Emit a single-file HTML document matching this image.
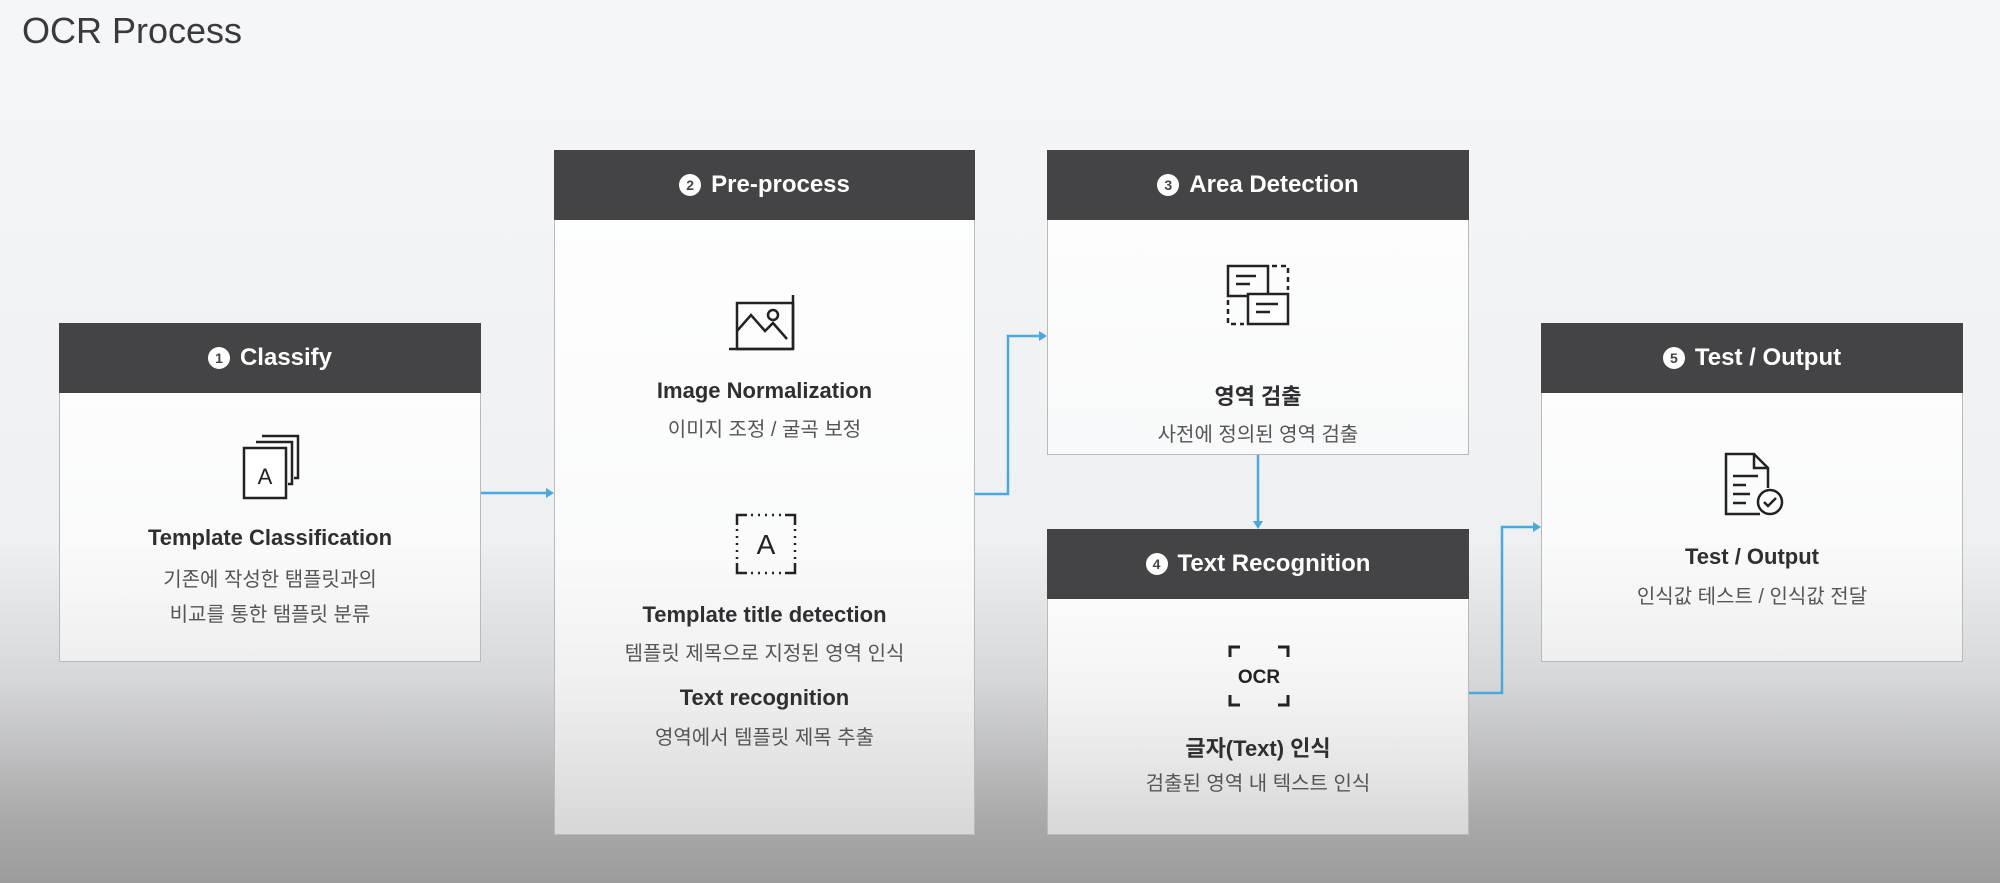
<!DOCTYPE html>
<html><head><meta charset="utf-8"><style>
*{margin:0;padding:0;box-sizing:border-box}
body{width:2000px;height:883px;overflow:hidden;position:relative;font-family:"Liberation Sans","Noto Sans CJK KR",sans-serif;
background:linear-gradient(180deg,#f5f6f8 0px,#eef0f2 540px,#d6d7d9 680px,#a9a9aa 820px,#9c9c9d 883px);}
.t{position:absolute;left:22px;top:10px;font-size:36px;color:#3a3a3c}
.box{position:absolute;border:1.5px solid #b9babc;background:linear-gradient(180deg,rgba(255,255,255,0.92),rgba(255,255,255,0.55))}
.hd{position:absolute;left:-1px;right:-1px;top:-1px;height:70px;background:#444446;color:#fff;font-weight:bold;font-size:24px;display:flex;align-items:center;justify-content:center}
.n{display:inline-block;width:22px;height:22px;border-radius:50%;background:#fff;color:#444;font-size:14px;line-height:22px;text-align:center;margin-right:10px}
.l{position:absolute;left:0;right:0;text-align:center;white-space:nowrap}
.b{font-weight:bold;font-size:22px;color:#2f2f31}
.k{font-size:20px;color:#555}
svg.ic{position:absolute}
</style></head><body>
<div class="t">OCR Process</div>

<svg style="position:absolute;left:0;top:0" width="2000" height="883">
<g stroke="#4aa8dc" stroke-width="2.5" fill="none">
<path d="M481 493 H548"/>
<path d="M975 494 H1008 V336 H1041"/>
<path d="M1258 455 V523"/>
<path d="M1469 693 H1502 V527 H1535"/>
</g>
<g fill="#4aa8dc">
<path d="M554 493 l-8 -5 v10z"/>
<path d="M1047 336 l-8 -5 v10z"/>
<path d="M1258 529 l-5 -8 h10z"/>
<path d="M1541 527 l-8 -5 v10z"/>
</g>
</svg>

<div class="box" style="left:59px;top:323px;width:422px;height:339px">
<div class="hd"><span class="n">1</span>Classify</div>
<svg class="ic" style="left:182px;top:110px" width="60" height="66" viewBox="0 0 60 66" fill="none" stroke="#222" stroke-width="2.5">
<path d="M20 2 H56 V44 H52"/><path d="M14 8 H50 V50 H46"/><rect x="2" y="14" width="42" height="50" fill="#fff"/>
<text x="23" y="50" font-size="22" fill="#222" stroke="none" text-anchor="middle" font-family="Liberation Sans">A</text></svg>
<div class="l b" style="top:201px">Template Classification</div>
<div class="l k" style="top:239px">기존에 작성한 탬플릿과의</div>
<div class="l k" style="top:274px">비교를 통한 탬플릿 분류</div>
</div>

<div class="box" style="left:554px;top:150px;width:421px;height:685px">
<div class="hd"><span class="n">2</span>Pre-process</div>
<svg class="ic" style="left:172px;top:142px" width="80" height="66" viewBox="0 0 80 66" fill="none" stroke="#222" stroke-width="2.5">
<rect x="10" y="10" width="56" height="46"/><path d="M2 56 H66 M66 2 V56" /><path d="M10 38 L24 22 L38 38 L46 30 L60 46"/><circle cx="46" cy="22" r="5"/></svg>
<div class="l b" style="top:227px">Image Normalization</div>
<div class="l k" style="top:262px">이미지 조정 / 굴곡 보정</div>
<svg class="ic" style="left:180px;top:362px" width="62" height="62" viewBox="0 0 62 62" fill="none" stroke="#222" stroke-width="2.5">
<path d="M2 12 V2 H12 M50 2 H60 V12 M60 50 V60 H50 M12 60 H2 V50"/>
<path d="M16 2 H46 M60 16 V46 M16 60 H46 M2 16 V46" stroke-dasharray="2 5"/>
<text x="31" y="41" font-size="28" fill="#222" stroke="none" text-anchor="middle" font-family="Liberation Sans">A</text></svg>
<div class="l b" style="top:451px">Template title detection</div>
<div class="l k" style="top:486px">템플릿 제목으로 지정된 영역 인식</div>
<div class="l b" style="top:534px">Text recognition</div>
<div class="l k" style="top:570px">영역에서 템플릿 제목 추출</div>
</div>

<div class="box" style="left:1047px;top:150px;width:422px;height:305px">
<div class="hd"><span class="n">3</span>Area Detection</div>
<svg class="ic" style="left:178px;top:113px" width="66" height="64" viewBox="0 0 66 64" fill="none" stroke="#222" stroke-width="2.5">
<rect x="2" y="2" width="40" height="30"/><path d="M10 12 H30 M10 20 H24"/>
<rect x="22" y="30" width="40" height="30" fill="#fff"/><path d="M30 40 H52 M30 48 H44"/>
<path d="M46 2 H62 V26 M2 36 V60 H18" stroke-dasharray="5 4"/></svg>
<div class="l b" style="top:228px">영역 검출</div>
<div class="l k" style="top:267px">사전에 정의된 영역 검출</div>
</div>

<div class="box" style="left:1047px;top:529px;width:422px;height:306px">
<div class="hd"><span class="n">4</span>Text Recognition</div>
<svg class="ic" style="left:180px;top:115px" width="62" height="62" viewBox="0 0 62 62" fill="none" stroke="#222" stroke-width="3">
<path d="M2 12 V2 H12 M50 2 H60 V12 M60 50 V60 H50 M12 60 H2 V50"/>
<text x="31" y="38" font-size="19" font-weight="bold" fill="#222" stroke="none" text-anchor="middle" font-family="Liberation Sans">OCR</text></svg>
<div class="l b" style="top:201px">글자(Text) 인식</div>
<div class="l k" style="top:237px">검출된 영역 내 텍스트 인식</div>
</div>

<div class="box" style="left:1541px;top:323px;width:422px;height:339px">
<div class="hd"><span class="n">5</span>Test / Output</div>
<svg class="ic" style="left:182px;top:128px" width="62" height="66" viewBox="0 0 62 66" fill="none" stroke="#222" stroke-width="2.5">
<path d="M36 62 H2 V2 H30 L44 16 V36"/><path d="M30 2 V16 H44"/><path d="M9 24 H34 M9 33 H22 M9 42 H26 M9 51 H22"/>
<circle cx="46" cy="50" r="12" fill="#fff"/><path d="M40 50 l4 4 l8 -8"/></svg>
<div class="l b" style="top:220px">Test / Output</div>
<div class="l k" style="top:256px">인식값 테스트 / 인식값 전달</div>
</div>
</body></html>
